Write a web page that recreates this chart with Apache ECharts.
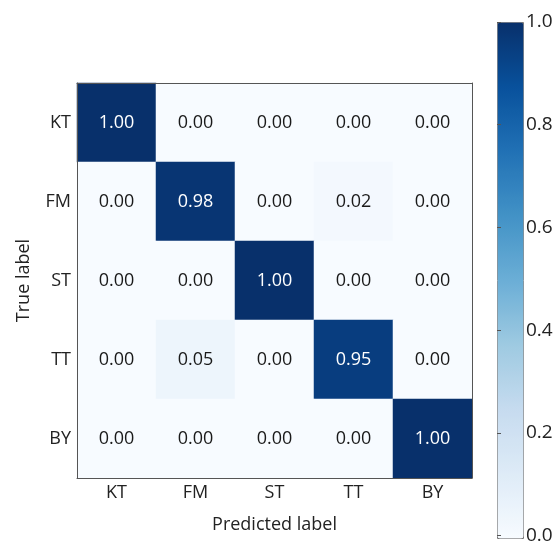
<!DOCTYPE html>
<html>
<head>
<meta charset="utf-8">
<script src="https://cdn.jsdelivr.net/npm/echarts@6/dist/echarts.min.js"></script>
<style>html,body{margin:0;padding:0;background:#fff;}#c{width:559px;height:545px;}</style>
</head>
<body>
<div id="c"></div>
<script>
var predicted = ['KT', 'FM', 'ST', 'TT', 'BY'];
var trueLabels = ['KT', 'FM', 'ST', 'TT', 'BY'];
var rowKT = [1.00, 0.00, 0.00, 0.00, 0.00];
var rowFM = [0.00, 0.98, 0.00, 0.02, 0.00];
var rowST = [0.00, 0.00, 1.00, 0.00, 0.00];
var rowTT = [0.00, 0.05, 0.00, 0.95, 0.00];
var rowBY = [0.00, 0.00, 0.00, 0.00, 1.00];
var colorbarTicks = [0.0, 0.2, 0.4, 0.6, 0.8, 1.0];

var rows = [rowKT, rowFM, rowST, rowTT, rowBY];
var blues = ['#f7fbff', '#deebf7', '#c6dbef', '#9ecae1', '#6baed6', '#4292c6', '#2171b5', '#08519c', '#08306b'];
var FONT = '"Open Sans", sans-serif';

var data = [];
rows.forEach(function (r, i) {
  r.forEach(function (v, j) {
    data.push({
      value: [j, i, v],
      label: { color: v > 0.5 ? '#ffffff' : '#1a1a1a' }
    });
  });
});

var chart = echarts.init(document.getElementById('c'));
chart.setOption({
  animation: false,
  backgroundColor: '#ffffff',
  textStyle: { fontFamily: FONT },
  grid: [
    { left: 77, top: 83, width: 395, height: 395 },
    { left: 497, top: 22, width: 26, height: 516 }
  ],
  xAxis: [
    {
      gridIndex: 0, type: 'category', data: predicted, position: 'bottom', z: 5,
      name: 'Predicted label', nameLocation: 'middle', nameGap: 38,
      nameTextStyle: { fontSize: 18, color: '#222', fontFamily: FONT },
      axisLine: { lineStyle: { color: '#555', width: 1 } },
      axisTick: { alignWithLabel: true, length: 4, lineStyle: { color: '#555' } },
      axisLabel: { fontSize: 18, color: '#222', margin: 6, fontFamily: FONT },
      splitLine: { show: false }
    },
    {
      gridIndex: 0, type: 'category', data: predicted, position: 'top', z: 5,
      axisLine: { lineStyle: { color: '#555', width: 1 } },
      axisTick: { show: false }, axisLabel: { show: false }
    },
    { gridIndex: 1, type: 'value', show: false, min: 0, max: 1 }
  ],
  yAxis: [
    {
      gridIndex: 0, type: 'category', data: trueLabels, inverse: true, position: 'left', z: 5,
      name: 'True label', nameLocation: 'middle', nameGap: 44, nameRotate: 90,
      nameTextStyle: { fontSize: 18, color: '#222', fontFamily: FONT },
      axisLine: { lineStyle: { color: '#555', width: 1 } },
      axisTick: { alignWithLabel: true, length: 4, lineStyle: { color: '#555' } },
      axisLabel: { fontSize: 18, color: '#222', margin: 6, fontFamily: FONT },
      splitLine: { show: false }
    },
    {
      gridIndex: 0, type: 'category', data: trueLabels, inverse: true, position: 'right', z: 5,
      axisLine: { lineStyle: { color: '#555', width: 1 } },
      axisTick: { show: false }, axisLabel: { show: false }
    },
    {
      gridIndex: 1, type: 'value', min: 0, max: 1, interval: 0.2, position: 'right', z: 5,
      axisLine: { show: false },
      axisTick: { show: true, length: 4, lineStyle: { color: '#555' } },
      axisLabel: {
        fontSize: 19, color: '#222', margin: 3, fontFamily: FONT,
        formatter: function (v) { return v.toFixed(1); }
      },
      splitLine: { show: false }
    }
  ],
  visualMap: {
    type: 'continuous', seriesIndex: 0, min: 0, max: 1,
    calculable: false, text: ['', ''], showLabel: false,
    left: 497, top: 22, itemWidth: 26, itemHeight: 516,
    padding: 0, borderWidth: 1, borderColor: '#777',
    inRange: { color: blues }, orient: 'vertical'
  },
  series: [
    {
      type: 'heatmap', xAxisIndex: 0, yAxisIndex: 0, data: data,
      label: {
        show: true, fontSize: 18, fontFamily: FONT,
        formatter: function (p) { return p.value[2].toFixed(2); }
      },
      itemStyle: { borderWidth: 0 },
      emphasis: { disabled: true }
    },
    {
      type: 'line', xAxisIndex: 2, yAxisIndex: 2, data: [], silent: true
    }
  ]
});
</script>
</body>
</html>
